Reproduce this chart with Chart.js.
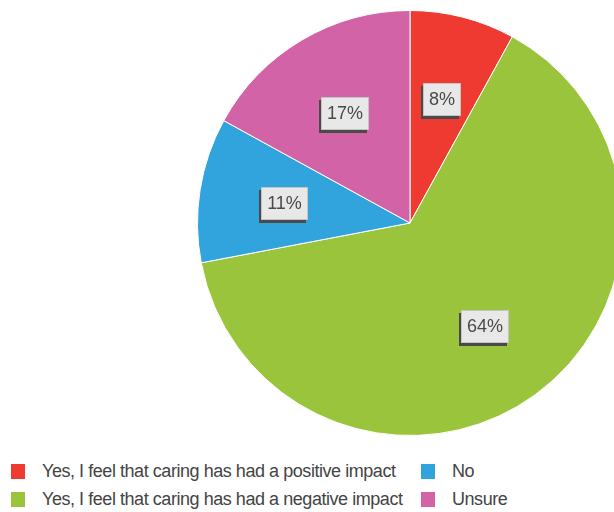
<!DOCTYPE html>
<html>
<head>
<meta charset="utf-8">
<script src="https://cdn.jsdelivr.net/npm/chart.js@4/dist/chart.umd.min.js"></script>
<style>
  html, body { margin: 0; padding: 0; background: #fff; }
  body { width: 614px; height: 512px; position: relative; overflow: hidden; font-family: "Liberation Sans", Arial, sans-serif; }
  #pie { position: absolute; left: 197px; top: 10px; }
  #legend { position: absolute; left: 11px; top: 460px; display: grid; grid-template-columns: 410px 120px; row-gap: 6px; }
  .item { display: flex; align-items: center; font-size: 18px; color: #444; letter-spacing: -0.45px; height: 22px; }
  .box { width: 14px; height: 15px; margin-right: 17px; flex: none; }
</style>
</head>
<body>
<canvas id="pie" width="426" height="426"></canvas>
<div id="legend"></div>
<script>
// categorías y valores (%)
const categorias = [
    'Yes, I feel that caring has had a positive impact',
    'Yes, I feel that caring has had a negative impact',
    'No',
    'Unsure'
];
const valores = [8, 64, 11, 17];
const colores = ['#ee3a31', '#99c43c', '#31a3dd', '#d163a6'];
// orden de la leyenda (dos columnas)
const ordenLeyenda = [0, 2, 1, 3];

// etiquetas en caja gris con sombra
const etiquetasPlugin = {
    id: 'etiquetas',
    afterDatasetsDraw(chart) {
        const ctx = chart.ctx;
        const meta = chart.getDatasetMeta(0);
        ctx.save();
        ctx.font = '18px "Liberation Sans", Arial, sans-serif';
        ctx.textAlign = 'center';
        ctx.textBaseline = 'middle';
        meta.data.forEach((arc, i) => {
            const mid = (arc.startAngle + arc.endAngle) / 2;
            const r = arc.outerRadius * 0.6;
            const x = arc.x + Math.cos(mid) * r;
            const y = arc.y + Math.sin(mid) * r;
            const texto = valores[i] + '%';
            const w = Math.round(ctx.measureText(texto).width + 12);
            const h = 33;
            const bx = Math.round(x - w / 2), by = Math.round(y - h / 2);
            ctx.fillStyle = '#4a4a4a';
            ctx.fillRect(bx - 2, by + 3, w, h);
            ctx.fillStyle = '#e8e8e8';
            ctx.fillRect(bx, by, w, h);
            ctx.strokeStyle = '#c4c4c4';
            ctx.lineWidth = 1;
            ctx.strokeRect(bx + 0.5, by + 0.5, w - 1, h - 1);
            ctx.fillStyle = '#4a4a4a';
            ctx.fillText(texto, bx + w / 2, by + h / 2 + 1);
        });
        ctx.restore();
    }
};

new Chart(document.getElementById('pie'), {
    type: 'pie',
    data: {
        labels: categorias,
        datasets: [{
            data: valores,
            backgroundColor: colores,
            borderColor: '#ffffff',
            borderWidth: 1
        }]
    },
    options: {
        responsive: false,
        animation: false,
        layout: { padding: 0 },
        plugins: { legend: { display: false }, tooltip: { enabled: false } }
    },
    plugins: [etiquetasPlugin]
});

// leyenda HTML
const leyenda = document.getElementById('legend');
ordenLeyenda.forEach(i => {
    const item = document.createElement('div');
    item.className = 'item';
    item.innerHTML = `<span class="box" style="background:${colores[i]}"></span><span>${categorias[i]}</span>`;
    leyenda.appendChild(item);
});
</script>
</body>
</html>
